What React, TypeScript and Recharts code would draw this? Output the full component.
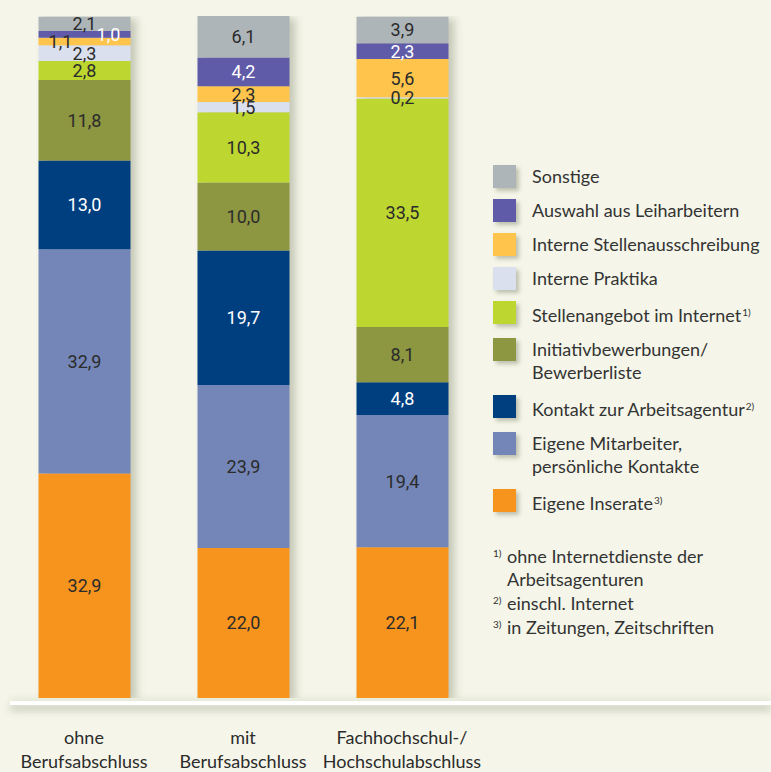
import React from "react";
import { BarChart, Bar, XAxis, YAxis, LabelList } from "recharts";

const categories = ["ohne\nBerufsabschluss", "mit\nBerufsabschluss", "Fachhochschul-/\nHochschulabschluss"];
const eigeneInserate = [32.9, 22.0, 22.1];
const eigeneMitarbeiter = [32.9, 23.9, 19.4];
const kontaktArbeitsagentur = [13.0, 19.7, 4.8];
const initiativbewerbungen = [11.8, 10.0, 8.1];
const stellenangebotInternet = [2.8, 10.3, 33.5];
const internePraktika = [2.3, 1.5, 0.2];
const interneStellenausschreibung = [1.1, 2.3, 5.6];
const auswahlLeiharbeiter = [1.0, 4.2, 2.3];
const sonstige = [2.1, 6.1, 3.9];

const footnotes = [
  { mark: "1)", lines: ["ohne Internetdienste der", "Arbeitsagenturen"] },
  { mark: "2)", lines: ["einschl. Internet"] },
  { mark: "3)", lines: ["in Zeitungen, Zeitschriften"] },
];

type Series = { key: string; values: number[]; lines: string[]; sup?: string; color: string; text: string };

const series: Series[] = [
  { key: "inserate", values: eigeneInserate, lines: ["Eigene Inserate"], sup: "3)", color: "#f7941e", text: "#2b2b2b" },
  { key: "mitarbeiter", values: eigeneMitarbeiter, lines: ["Eigene Mitarbeiter,", "persönliche Kontakte"], color: "#7386b7", text: "#2b2b2b" },
  { key: "agentur", values: kontaktArbeitsagentur, lines: ["Kontakt zur Arbeitsagentur"], sup: "2)", color: "#003f7f", text: "#ffffff" },
  { key: "initiativ", values: initiativbewerbungen, lines: ["Initiativbewerbungen/", "Bewerberliste"], color: "#8d9641", text: "#2b2b2b" },
  { key: "internet", values: stellenangebotInternet, lines: ["Stellenangebot im Internet"], sup: "1)", color: "#bdd630", text: "#2b2b2b" },
  { key: "praktika", values: internePraktika, lines: ["Interne Praktika"], color: "#dbe0ee", text: "#2b2b2b" },
  { key: "stellen", values: interneStellenausschreibung, lines: ["Interne Stellenausschreibung"], color: "#fec44c", text: "#2b2b2b" },
  { key: "leih", values: auswahlLeiharbeiter, lines: ["Auswahl aus Leiharbeitern"], color: "#605ba8", text: "#ffffff" },
  { key: "sonstige", values: sonstige, lines: ["Sonstige"], color: "#adb5b9", text: "#2b2b2b" },
];

const data = categories.map((c, i) => {
  const row: Record<string, any> = { name: c };
  let total = 0;
  series.forEach((s) => {
    row[s.key] = s.values[i];
    total += s.values[i];
  });
  row.total = total;
  return row;
});

const labelShift: Record<string, number> = { "leih-0": 24, "stellen-0": -24 };

const fmt = (v: number) => v.toFixed(1).replace(".", ",");

const makeLabel = (s: Series) => (props: any) => {
  const { x, y, width, height, value, index } = props;
  const dx = labelShift[`${s.key}-${index}`] || 0;
  return (
    <text
      x={x + width / 2 + dx}
      y={y + height / 2}
      textAnchor="middle"
      dominantBaseline="central"
      fill={s.text}
      style={{ fontFamily: "Roboto", fontSize: 18 }}
    >
      {fmt(value)}
    </text>
  );
};

const CatTick = (props: any) => {
  const { x, y, payload } = props;
  const parts = String(payload.value).split("\n");
  return (
    <text x={x} y={y} textAnchor="middle" fill="#2b2b2b" style={{ fontFamily: "Lato", fontSize: 18 }}>
      {parts.map((p, i) => (
        <tspan key={i} x={x} dy={i === 0 ? 46 : 24}>
          {p}
        </tspan>
      ))}
    </text>
  );
};

const ShadowShape = (props: any) => {
  const { x, y, width, height } = props;
  return (
    <rect x={x + 6} y={y + 2} width={width} height={height} fill="#8a8e78" opacity={0.45} style={{ filter: "blur(4px)" }} />
  );
};

const LegendBox = () => {
  const rows = [...series].reverse();
  return (
    <div style={{ fontFamily: "Lato", fontSize: 18, color: "#333" }}>
      {rows.map((s) => (
        <div key={s.key} style={{ display: "flex", alignItems: "flex-start", marginBottom: 11 }}>
          <div
            style={{
              width: 23,
              height: 23,
              background: s.color,
              flex: "none",
              boxShadow: "3px 3px 4px rgba(90,95,70,0.35)",
            }}
          />
          <div style={{ marginLeft: 16, lineHeight: "23px", whiteSpace: "nowrap" }}>
            {s.lines.map((l, i) => (
              <div key={i}>
                {l}
                {s.sup && i === s.lines.length - 1 ? (
                  <span style={{ fontSize: 10, verticalAlign: "6px", marginLeft: 1 }}>{s.sup}</span>
                ) : null}
              </div>
            ))}
          </div>
        </div>
      ))}
      <div style={{ marginTop: 30 }}>
        {footnotes.map((f) => (
          <div key={f.mark} style={{ display: "flex", lineHeight: "23px", marginBottom: 1 }}>
            <span style={{ fontSize: 10, width: 14, lineHeight: "16px", flex: "none" }}>{f.mark}</span>
            <div>
              {f.lines.map((l, i) => (
                <div key={i} style={{ whiteSpace: "nowrap" }}>{l}</div>
              ))}
            </div>
          </div>
        ))}
      </div>
    </div>
  );
};

export default function App() {
  return (
    <div
      style={{
        position: "absolute",
        left: 0,
        top: 0,
        width: 771,
        height: 772,
        background: "#f5f6e9",
        overflow: "hidden",
      }}
    >
      <div
        style={{
          position: "absolute",
          left: 10,
          top: 701,
          width: 761,
          height: 4,
          background: "#ffffff",
          boxShadow: "0 5px 7px rgba(110,115,90,0.45), 0 -3px 6px rgba(150,155,120,0.2)",
        }}
      />
      <div style={{ position: "absolute", left: 0, top: 0 }}>
        <BarChart
          width={771}
          height={772}
          data={data}
          margin={{ top: 16, right: 289.5, bottom: 0, left: 4.5 }}
          barCategoryGap={0}
        >
          <XAxis dataKey="name" xAxisId="shadow" hide />
          <XAxis
            dataKey="name"
            axisLine={false}
            tickLine={false}
            tickSize={0}
            tickMargin={0}
            height={74}
            interval={0}
            tick={<CatTick />}
          />
          <YAxis hide domain={[0, 100]} allowDataOverflow />
          <Bar
            dataKey="total"
            xAxisId="shadow"
            barSize={92}
            isAnimationActive={false}
            shape={<ShadowShape />}
            legendType="none"
          />
          {series.map((s) => (
            <Bar
              key={s.key}
              dataKey={s.key}
              stackId="a"
              fill={s.color}
              barSize={92}
              isAnimationActive={false}
            >
              <LabelList dataKey={s.key} content={makeLabel(s)} />
            </Bar>
          ))}
        </BarChart>
      </div>
      <div style={{ position: "absolute", left: 493, top: 165, width: 278 }}>
        <LegendBox />
      </div>
    </div>
  );
}
